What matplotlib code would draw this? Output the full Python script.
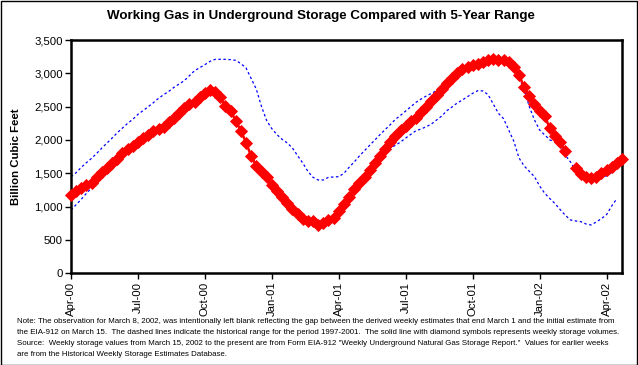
import matplotlib
matplotlib.use("Agg")
import matplotlib.pyplot as plt
import numpy as np
import pandas as pd
from matplotlib.patches import Rectangle

plt.rcParams['font.family'] = ['Liberation Sans', 'DejaVu Sans']

# ---- data -------------------------------------------------------------
weeks = pd.date_range("2000-04-28", periods=108, freq="7D")

storage = [1175, 1230, 1275, 1320, 1360, 1445, 1515, 1580, 1650, 1715,
           1800, 1865, 1905, 1970, 2030, 2080, 2135, 2170, 2195, 2265,
           2325, 2400, 2475, 2540, 2570, 2640, 2710, 2745, 2725, 2640,
           2510, 2435, 2290, 2135, 1960, 1755, 1612, 1520, 1440, 1322,
           1232, 1140, 1058, 960, 885, 810, 788, 782, 725, 750,
           800, 835, 935, 1040, 1150, 1260, 1350, 1450, 1550, 1650,
           1760, 1870, 1970, 2060, 2150, 2210, 2290, 2330, 2420, 2500,
           2590, 2675, 2760, 2850, 2925, 3000, 3060, 3100, 3125, 3145,
           3165, 3195, 3210, 3200, 3200, 3168, 3090, 2980, 2790, 2660,
           2540, 2440, 2355, 2175, 2060, 1970, 1830, None, 1580, 1495,
           1450, 1425, 1450, 1510, 1550, 1600, 1650, 1710]

range_max = [1450, 1510, 1590, 1660, 1725, 1800, 1880, 1955, 2030, 2110,
             2180, 2250, 2310, 2385, 2440, 2500, 2560, 2625, 2680, 2730,
             2790, 2840, 2890, 2965, 3040, 3085, 3130, 3180, 3210, 3210,
             3210, 3205, 3195, 3145, 3080, 2920, 2760, 2500, 2290, 2170,
             2080, 2010, 1955, 1880, 1765, 1655, 1530, 1440, 1400, 1400,
             1440, 1445, 1450, 1500, 1590, 1670, 1760, 1840, 1920, 2000,
             2080, 2155, 2230, 2310, 2370, 2435, 2500, 2565, 2615, 2660,
             2700, 2740, 2780, 2825, 2870, 2960, 3040, 3090, 3135, 3170,
             3195, 3210, 3210, 3210, 3200, 3150, 3060, 2930, 2760, 2500,
             2300, 2150, 2075, 2000, 1975, 1890, 1770, 1670, 1540, 1450,
             1400, 1400, 1430, 1450, 1460, 1510, 1600, None]

range_min = [950, 1030, 1110, 1200, 1280, 1360, 1440, 1580, 1650, 1715,
             1800, 1865, 1905, 1970, 2030, 2080, 2135, 2170, 2195, 2265,
             2325, 2400, 2475, 2540, 2570, 2640, 2710, 2745, 2725, 2640,
             2510, 2435, 2290, 2135, 1960, 1755, 1612, 1520, 1440, 1322,
             1232, 1140, 1058, 960, 885, 810, 788, 782, 725, 750,
             800, 835, 935, 1040, 1150, 1255, 1345, 1430, 1530, 1630,
             1720, 1810, 1880, 1920, 1970, 2030, 2085, 2140, 2165, 2200,
             2240, 2300, 2360, 2440, 2495, 2555, 2600, 2650, 2700, 2740,
             2735, 2680, 2540, 2400, 2320, 2150, 1980, 1730, 1610, 1530,
             1450, 1310, 1200, 1120, 1045, 955, 870, 800, 785, 775,
             740, 725, 770, 820, 880, 1010, 1120, None]

y_ticks = [0, 500, 1000, 1500, 2000, 2500, 3000, 3500]
tick_every = 13

title = "Working Gas in Underground Storage Compared with 5-Year Range"
ylabel = "Billion Cubic Feet"
note_lines = [
    "Note: The observation for March 8, 2002, was intentionally left blank reflecting the gap between the derived weekly estimates that end March 1 and the initial estimate from",
    "the EIA-912 on March 15.  The dashed lines indicate the historical range for the period 1997-2001.  The solid line with diamond symbols represents weekly storage volumes.",
    "Source:  Weekly storage values from March 15, 2002 to the present are from Form EIA-912 \"Weekly Underground Natural Gas Storage Report.\"  Values for earlier weeks",
    "are from the Historical Weekly Storage Estimates Database.",
]

# ---- figure -----------------------------------------------------------
W, H = 638, 365
fig = plt.figure(figsize=(W / 100, H / 100), dpi=100)
fig.patch.set_facecolor("white")

L, R, T, B = 71, 622, 40, 273.3
ax = fig.add_axes([L / W, 1 - B / H, (R - L) / W, (B - T) / H])

x = np.arange(len(weeks))
s = np.array([np.nan if v is None else v for v in storage], dtype=float)
hi = np.array([np.nan if v is None else v for v in range_max], dtype=float)
lo = np.array([np.nan if v is None else v for v in range_min], dtype=float)

ax.plot(x, hi, color="#0000FF", lw=0.9, ls=(0, (2.0, 2.0)), zorder=2)
ax.plot(x, lo, color="#0000FF", lw=0.9, ls=(0, (2.0, 2.0)), zorder=2)
ax.plot(x, s, color="#FF0000", lw=1.8, marker="D", ms=5.8,
        mfc="#FF0000", mec="#FF0000", mew=0.6, clip_on=False, zorder=3)

ax.set_xlim(0, len(weeks) - 1)
ax.set_ylim(0, 3500)
ax.set_yticks(y_ticks)
ax.set_yticklabels([f"{v:,}" for v in y_ticks], fontsize=8.2)
xt = x[::tick_every]
ax.set_xticks(xt)
ax.set_xticklabels([weeks[i].strftime("%b-%y") for i in xt], rotation=90,
                   fontsize=8.2, va="top", ha="center")
ax.tick_params(axis="both", direction="out", length=4, width=1, pad=2)
for sp in ax.spines.values():
    sp.set_linewidth(1.8)
    sp.set_color("black")

ax.set_ylabel(ylabel, fontsize=8.2, fontweight="bold")
ax.yaxis.set_label_coords((21 - L) / (R - L), 0.5)

fig.text(321 / W, 1 - 16.5 / H, title, ha="center", va="center",
         fontsize=9.6, fontweight="bold")

renderer = fig.canvas.get_renderer()
ys = [321.5, 332.5, 343.5, 354.5]
base = 6.0
# fit the first note line to ~608 px width
t0 = fig.text(0, 0, note_lines[0], fontsize=base)
w0 = t0.get_window_extent(renderer).width
t0.remove()
fs = base * 608 / w0
for line, yy in zip(note_lines, ys):
    fig.text(17 / W, 1 - yy / H, line, ha="left", va="center", fontsize=fs)

fig.add_artist(Rectangle((0.5 / W, 0.5 / H), 1 - 1.5 / W, 1 - 1.5 / H,
                         transform=fig.transFigure, fill=False,
                         edgecolor="black", lw=1.0))

fig.savefig("out.png", dpi=100, facecolor="white")
